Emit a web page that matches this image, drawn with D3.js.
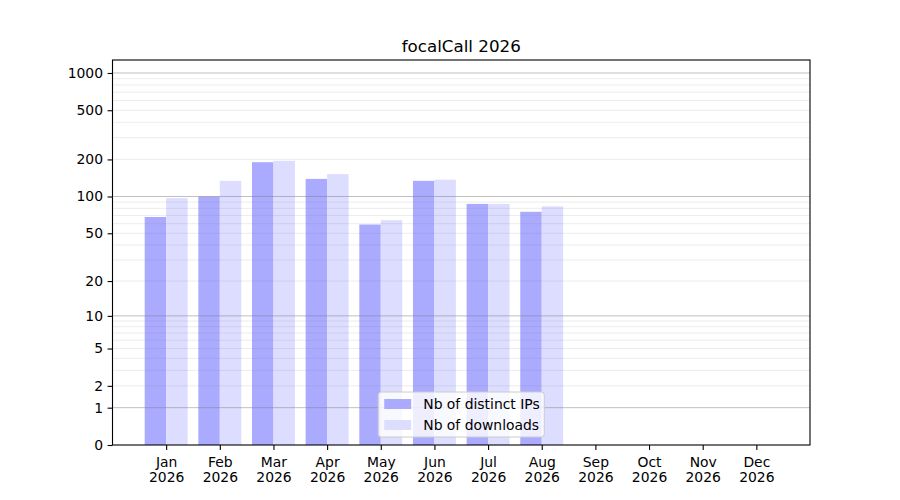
<!DOCTYPE html>
<html>
<head>
<meta charset="utf-8">
<script src="https://cdn.jsdelivr.net/npm/d3@7"></script>
<style>
  body { margin: 0; background: #fff; }
  text { font-family: "DejaVu Sans", sans-serif; fill: #000; }
</style>
</head>
<body>
<div class="canvas"></div>
<script>
// data
const months = ["Jan", "Feb", "Mar", "Apr", "May", "Jun", "Jul", "Aug", "Sep", "Oct", "Nov", "Dec"];
const year = "2026";
const distinctIPs = [68, 100, 190, 139, 59, 134, 87, 75, null, null, null, null];
const downloads = [97, 134, 195, 152, 64, 137, 87, 83, null, null, null, null];
const yTicks = [0, 1, 2, 5, 10, 20, 50, 100, 200, 500, 1000];
const majorGrid = [1, 10, 100, 1000];
const minorGrid = [2, 3, 4, 5, 6, 7, 8, 9, 20, 30, 40, 50, 60, 70, 80, 90, 200, 300, 400, 500, 600, 700, 800, 900];
const seriesNames = ["Nb of distinct IPs", "Nb of downloads"];
const seriesColors = ["#aaaaff", "#ddddff"];

const width = 900, height = 500;
const marginTop = 60, marginRight = 90, marginBottom = 55, marginLeft = 112.5;
const barW = 0.4;
const fontSize = "13.9px";

const svg = d3.select(".canvas").append("svg")
  .attr("width", width)
  .attr("height", height);

// log10(1+x) style scale -> symlog with constant 1
const x = d3.scaleLinear().domain([-1, 12]).range([marginLeft, width - marginRight]);
const y = d3.scaleSymlog().constant(1).domain([0, 1273]).range([height - marginBottom, marginTop]);

// bars
const series = [distinctIPs, downloads];
series.forEach((vals, s) => {
  svg.append("g").selectAll("rect")
    .data(vals.map((v, i) => ({ i, v })).filter(d => d.v != null))
    .join("rect")
      .attr("x", d => s === 0 ? x(d.i - barW) : x(d.i))
      .attr("width", x(barW) - x(0))
      .attr("y", d => y(d.v))
      .attr("height", d => y(0) - y(d.v))
      .attr("fill", seriesColors[s]);
});

// grid drawn over bars
svg.append("g").selectAll("line")
  .data(minorGrid)
  .join("line")
    .attr("x1", marginLeft).attr("x2", width - marginRight)
    .attr("y1", d => y(d)).attr("y2", d => y(d))
    .attr("stroke", "#808080").attr("stroke-opacity", 0.15).attr("stroke-width", 1);

svg.append("g").selectAll("line")
  .data(majorGrid)
  .join("line")
    .attr("x1", marginLeft).attr("x2", width - marginRight)
    .attr("y1", d => y(d)).attr("y2", d => y(d))
    .attr("stroke", "#808080").attr("stroke-opacity", 0.5).attr("stroke-width", 1);

// axes
const yAxis = d3.axisLeft(y).tickValues(yTicks).tickFormat(d3.format("d"))
  .tickSize(4.9).tickPadding(4.6);
const gy = svg.append("g")
  .attr("transform", `translate(${marginLeft},0)`)
  .call(yAxis);
gy.select(".domain").remove();

const xAxis = d3.axisBottom(x).tickValues(d3.range(12)).tickFormat(() => "")
  .tickSize(4.9).tickPadding(4.9);
const gx = svg.append("g")
  .attr("transform", `translate(0,${height - marginBottom})`)
  .call(xAxis);
gx.select(".domain").remove();
gx.selectAll(".tick text").each(function(d) {
  const t = d3.select(this).attr("y", 12).attr("dy", null);
  t.append("tspan").attr("x", 0).attr("dy", "0.71em").text(months[d]);
  t.append("tspan").attr("x", 0).attr("dy", "1.08em").text(year);
});

svg.selectAll(".tick text").style("font-size", fontSize).style("font-family", "DejaVu Sans, sans-serif");
svg.selectAll(".tick line").attr("stroke", "#000").attr("stroke-width", 1.1);

// frame
svg.append("rect")
  .attr("x", marginLeft).attr("y", marginTop)
  .attr("width", width - marginRight - marginLeft)
  .attr("height", height - marginBottom - marginTop)
  .attr("fill", "none").attr("stroke", "#000").attr("stroke-width", 1.1);

// title
svg.append("text")
  .attr("x", (marginLeft + width - marginRight) / 2)
  .attr("y", 52)
  .attr("text-anchor", "middle")
  .style("font-size", "16.7px")
  .text("focalCall " + year);

// legend, lower center
const lgW = 166, lgH = 45;
const lgX = (marginLeft + width - marginRight) / 2 - lgW / 2;
const lgY = height - marginBottom - 8 - lgH;
const legend = svg.append("g").attr("transform", `translate(${lgX},${lgY})`);
legend.append("rect")
  .attr("width", lgW).attr("height", lgH)
  .attr("rx", 3)
  .attr("fill", "#fff").attr("fill-opacity", 0.8)
  .attr("stroke", "#cccccc").attr("stroke-width", 1);
seriesNames.forEach((name, i) => {
  legend.append("rect")
    .attr("x", 6).attr("y", 7 + i * 21)
    .attr("width", 27).attr("height", 10)
    .attr("fill", seriesColors[i]);
  legend.append("text")
    .attr("x", 45).attr("y", 12 + i * 21)
    .attr("dy", "0.35em")
    .style("font-size", fontSize)
    .text(name);
});
</script>
</body>
</html>
